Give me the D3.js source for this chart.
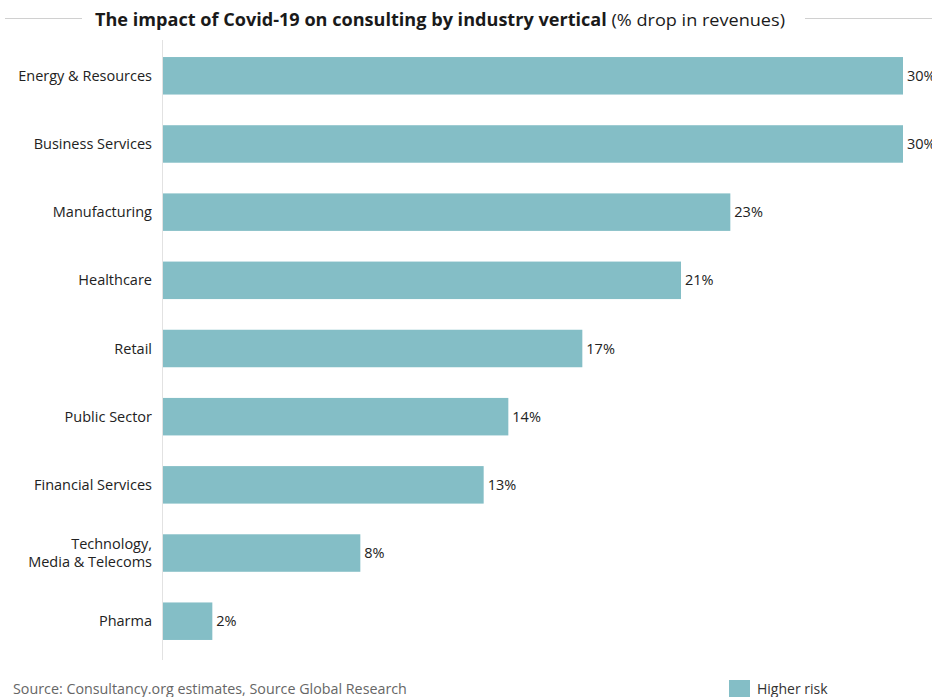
<!DOCTYPE html>
<html><head><meta charset="utf-8">
<script src="https://cdn.jsdelivr.net/npm/d3@7"></script>
<style>body{margin:0;background:#fff}svg{display:block}text{font-family:"Open Sans",sans-serif}</style>
</head><body><svg id="c" width="932" height="697"></svg>
<script>
const categories = ["Energy & Resources","Business Services","Manufacturing","Healthcare","Retail","Public Sector","Financial Services","Technology,\nMedia & Telecoms","Pharma"];
const values = [30,30,23,21,17,14,13,8,2];
const seriesName = "Higher risk";
const titleBold = "The impact of Covid-19 on consulting by industry vertical";
const titleNormal = " (% drop in revenues)";
const sourceText = "Source: Consultancy.org estimates, Source Global Research";

const svg = d3.select("#c");
const color = "#84bec6";
const x = d3.scaleLinear().domain([0,30]).range([163,903]);
const y = d3.scaleBand().domain(categories).range([40,657]).paddingInner(0.45).paddingOuter(0.25);

svg.append("line").attr("x1",162.5).attr("x2",162.5).attr("y1",40).attr("y2",660).attr("stroke","#e2e2e2").attr("stroke-width",1);

svg.selectAll("rect.bar").data(values).join("rect").attr("class","bar")
  .attr("x",x(0)).attr("y",(d,i)=>y(categories[i])).attr("width",d=>x(d)-x(0)).attr("height",y.bandwidth())
  .attr("fill",color);

svg.selectAll("text.val").data(values).join("text").attr("class","val")
  .attr("x",d=>x(d)+4).attr("y",(d,i)=>y(categories[i])+y.bandwidth()/2).attr("dy","0.35em")
  .attr("font-size",14.5).attr("fill","#222").text(d=>d+"%");

const lab = svg.selectAll("text.lab").data(categories).join("text").attr("class","lab")
  .attr("text-anchor","end").attr("font-size",14.5).attr("fill","#222");
lab.each(function(c){
  const lines = c.split("\n");
  const cy = y(c)+y.bandwidth()/2;
  const t = d3.select(this);
  lines.forEach((l,k)=>{
    t.append("tspan").attr("x",152).attr("y",cy+(k-(lines.length-1)/2)*18).attr("dy","0.35em").text(l);
  });
});

const title = svg.append("text").attr("x",95).attr("y",26).attr("font-size",17).attr("fill","#1a1a1a")
  .attr("textLength",690).attr("lengthAdjust","spacingAndGlyphs");
title.append("tspan").attr("font-weight","bold").text(titleBold);
title.append("tspan").attr("font-weight","normal").text(titleNormal);
svg.append("line").attr("x1",5).attr("x2",82).attr("y1",18.5).attr("y2",18.5).attr("stroke","#d0d0d0");
svg.append("line").attr("x1",805).attr("x2",932).attr("y1",18.5).attr("y2",18.5).attr("stroke","#d0d0d0");

svg.append("text").attr("x",13).attr("y",694).attr("font-size",14.3).attr("fill","#666").text(sourceText);
svg.append("rect").attr("x",729).attr("y",680).attr("width",21).attr("height",17).attr("fill",color);
svg.append("text").attr("x",757).attr("y",694).attr("font-size",14).attr("fill","#333").text(seriesName);
</script></body></html>
